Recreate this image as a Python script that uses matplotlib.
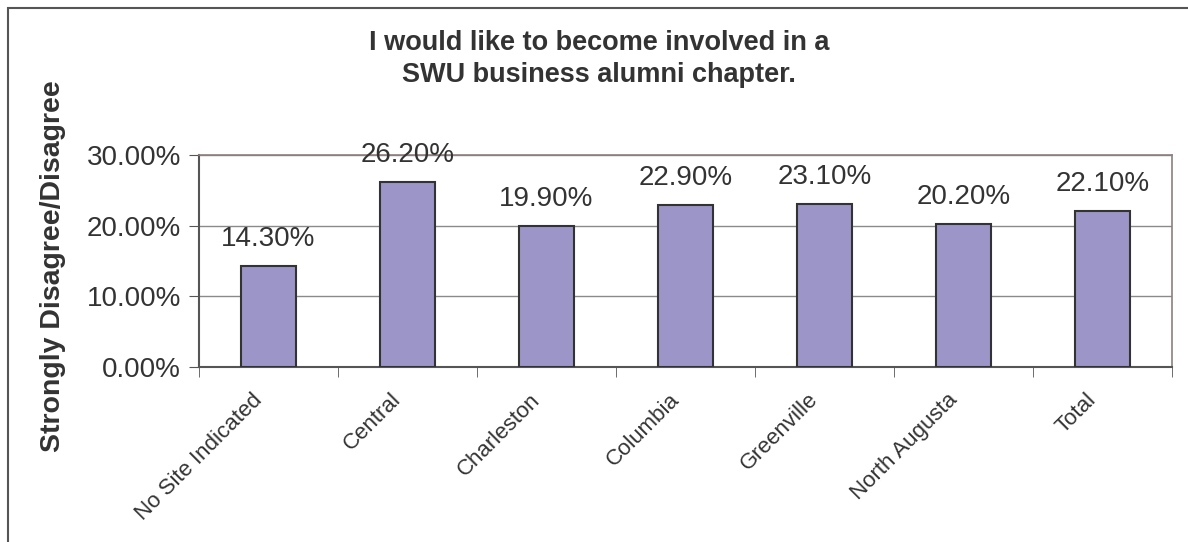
import matplotlib
matplotlib.use("Agg")
import matplotlib.pyplot as plt
from matplotlib.patches import Rectangle
from matplotlib.ticker import PercentFormatter

# chart data
sites = ["No Site Indicated", "Central", "Charleston", "Columbia",
         "Greenville", "North Augusta", "Total"]
disagree_pct = [14.3, 26.2, 19.9, 22.9, 23.1, 20.2, 22.1]
y_ticks = [0, 10, 20, 30]

TEXT = "#333333"
plt.rcParams["font.family"] = ["Liberation Sans", "DejaVu Sans"]

W, H = 1188, 542
fig = plt.figure(figsize=(W / 100, H / 100), dpi=100)
fig.patch.set_facecolor("white")

# outer chart frame (right and bottom edges fall outside the image)
fig.patches.append(Rectangle((8 / W, -20 / H), 1200 / W, (H - 8 + 20) / H,
                             transform=fig.transFigure, fill=False,
                             edgecolor="#555555", linewidth=1.5))

left, right, top, bottom = 199, 1172, 155, 367
ax = fig.add_axes([left / W, 1 - bottom / H, (right - left) / W, (bottom - top) / H])

x = list(range(len(sites)))
ax.bar(x, disagree_pct, width=0.4, color="#9C96C8",
       edgecolor="#333333", linewidth=1.5, zorder=3)

for xi, v in zip(x, disagree_pct):
    ax.text(xi, v + 2.0, f"{v:.2f}%", ha="center", va="bottom",
            fontsize=20, color=TEXT, zorder=4)

ax.set_xlim(-0.5, len(sites) - 0.5)
ax.set_ylim(0, 30)
ax.set_yticks(y_ticks)
ax.yaxis.set_major_formatter(PercentFormatter(decimals=2))
ax.grid(axis="y", color="#8a8a8a", linewidth=1.0, zorder=1)

# category separators as minor ticks; labels sit a little left of centre
ax.set_xticks([i - 0.5 for i in range(len(sites) + 1)], minor=True)
ax.set_xticks([i - 0.12 for i in x])
ax.set_xticklabels(sites, rotation=45, ha="right", va="top",
                   rotation_mode="anchor", fontsize=16, color=TEXT)
ax.tick_params(axis="x", which="major", length=0, pad=16)
ax.tick_params(axis="x", which="minor", length=7, color="#555555")
ax.tick_params(axis="y", length=7, color="#555555", labelsize=20,
               labelcolor=TEXT, pad=6)

for side in ("left", "bottom"):
    ax.spines[side].set_color("#555555")
    ax.spines[side].set_linewidth(1.5)
for side in ("top", "right"):
    ax.spines[side].set_color("#8c7f7f")
    ax.spines[side].set_linewidth(1.2)

ax.set_ylabel("Strongly Disagree/Disagree", fontsize=20.5, fontweight="bold",
              color=TEXT)
ax.yaxis.set_label_coords(53 / W, 1 - 266 / H, transform=fig.transFigure)
ax.yaxis.label.set_va("center")

fig.text(599 / W, 1 - 59 / H,
         "I would like to become involved in a\nSWU business alumni chapter.",
         ha="center", va="center", fontsize=19.5, fontweight="bold",
         color=TEXT, linespacing=1.3)

fig.savefig("out.png", dpi=100)
